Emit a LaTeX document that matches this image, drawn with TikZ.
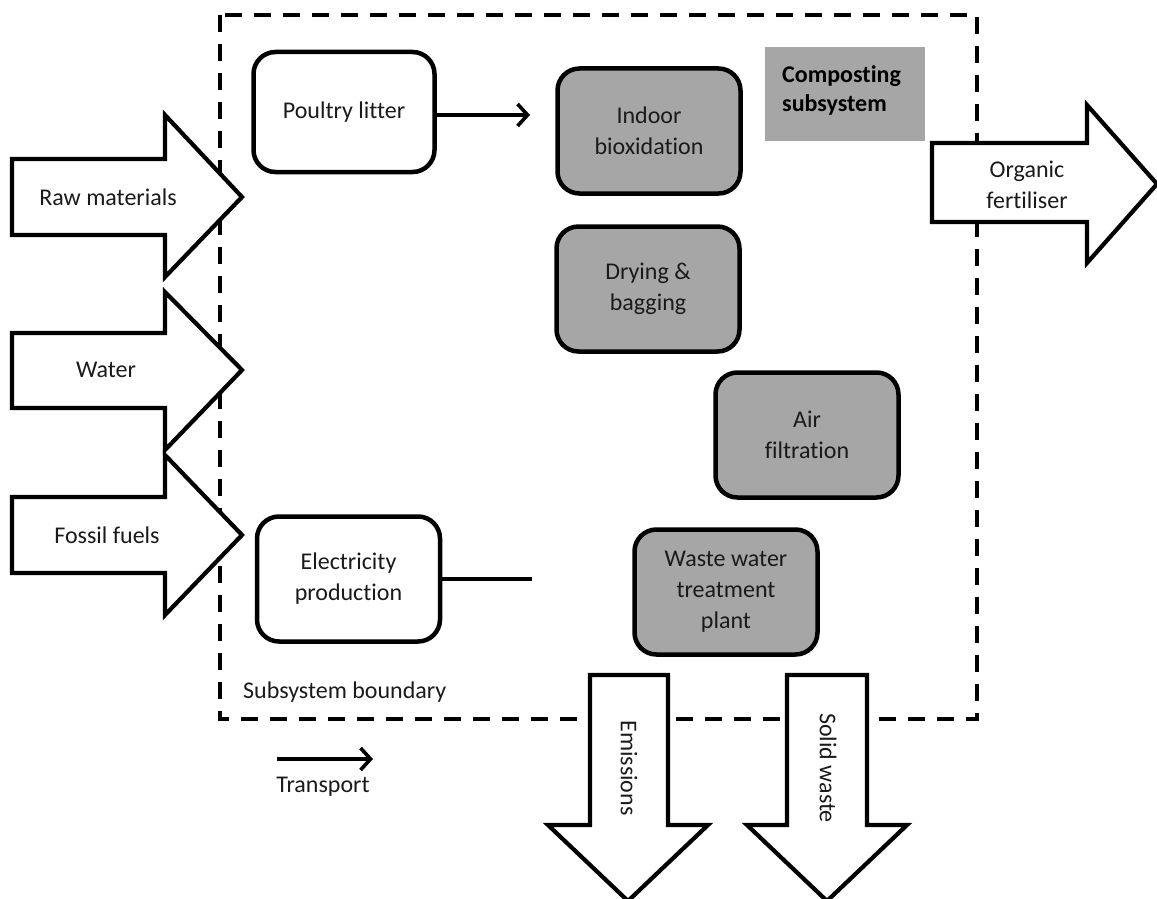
\documentclass[tikz,border=0pt]{standalone}
\usepackage{fontspec}
\setmainfont{Carlito}[Ligatures=NoCommon]
\usetikzlibrary{arrows.meta}
\definecolor{boxgray}{HTML}{A6A6A6}
\definecolor{inkgray}{HTML}{1A1A1A}
\begin{document}
\begin{tikzpicture}[x=1pt,y=-1pt,
  lbl/.style={font=\fontsize{24}{31}\selectfont, text=inkgray, align=center, inner sep=0pt},
  proc/.style={draw, line width=4.5pt, rounded corners=22pt, minimum width=183pt,
    minimum height=125pt, align=center, font=\fontsize{24}{31}\selectfont, text=inkgray},
  whitebox/.style={proc, fill=white},
  graybox/.style={proc, fill=boxgray},
  blockarrow/.style={draw, fill=white, line width=4.2pt, line join=miter},
  boundary/.style={draw, line width=4.5pt, dash pattern=on 17pt off 12pt},
  transport/.style={line width=3.6pt, -{Straight Barb[length=10pt,width=22pt,line width=3.6pt]}},
  plainlink/.style={line width=3.6pt}
]
\useasboundingbox (0,0) rectangle (1157,899);

% subsystem boundary
\draw[boundary] (220,15) rectangle (977,719);

% input flows
\draw[blockarrow] (12,159) -- (165,159) -- (165,115) -- (242,197) -- (165,277) -- (165,235) -- (12,235) -- cycle;
\node[lbl] (rawtxt) at (108,197) {Raw materials};
\draw[blockarrow] (12,333) -- (165,333) -- (165,292) -- (242,370) -- (165,450) -- (165,408) -- (12,408) -- cycle;
\node[lbl] (watertxt) at (106,370) {Water};
\draw[blockarrow] (12,497) -- (165,497) -- (165,455) -- (242,535) -- (165,615) -- (165,573) -- (12,573) -- cycle;
\node[lbl] (fossiltxt) at (107,535) {Fossil fuels};

% output flows
\draw[blockarrow] (932,143) -- (1087,143) -- (1087,105) -- (1157,184) -- (1087,263) -- (1087,222) -- (932,222) -- cycle;
\node[lbl] (fertxt) at (1027,185) {Organic\\fertiliser};
\draw[blockarrow] (590,675) -- (668,675) -- (668,825) -- (708,825) -- (628,901) -- (548,825) -- (590,825) -- cycle;
\node[lbl, rotate=-90] (emtxt) at (629,768) {Emissions};
\draw[blockarrow] (787,675) -- (867,675) -- (867,825) -- (907,825) -- (827,901) -- (747,825) -- (787,825) -- cycle;
\node[lbl, rotate=-90] (swtxt) at (828,768) {Solid waste};

% processes
\node[whitebox, minimum width=181pt, minimum height=120pt] (poultry) at (344,112) {Poultry litter};
\node[whitebox] (elec) at (348.5,579) {Electricity\\production};
\node[graybox] (indoor) at (649,131) {Indoor\\bioxidation};
\node[graybox] (drying) at (648,289) {Drying \&\\bagging};
\node[graybox] (air) at (807,435) {Air\\filtration};
\node[graybox] (wwtp) at (726,592) {Waste water\\treatment\\plant};

% subsystem title
\node[fill=boxgray, minimum width=160pt, minimum height=94pt, inner sep=0pt] (comptitle) at (845,94) {};
\node[lbl, font=\fontsize{24}{29}\selectfont\bfseries, align=left, anchor=west, text=black] (comptxt) at (782,90) {Composting\\subsystem};

% links
\coordinate (pend) at (530,115);
\draw[transport] (poultry.east |- pend) -- (pend);
\coordinate (eend) at (532,579);
\draw[plainlink] (elec.east) -- (eend);

% legend
\node[lbl, anchor=west] (boundtxt) at (243,692) {Subsystem boundary};
\coordinate (ta) at (277,759);
\coordinate (tb) at (373,759);
\draw[transport] (ta) -- (tb);
\node[lbl] (transtxt) at (323,787) {Transport};
\end{tikzpicture}
\end{document}
